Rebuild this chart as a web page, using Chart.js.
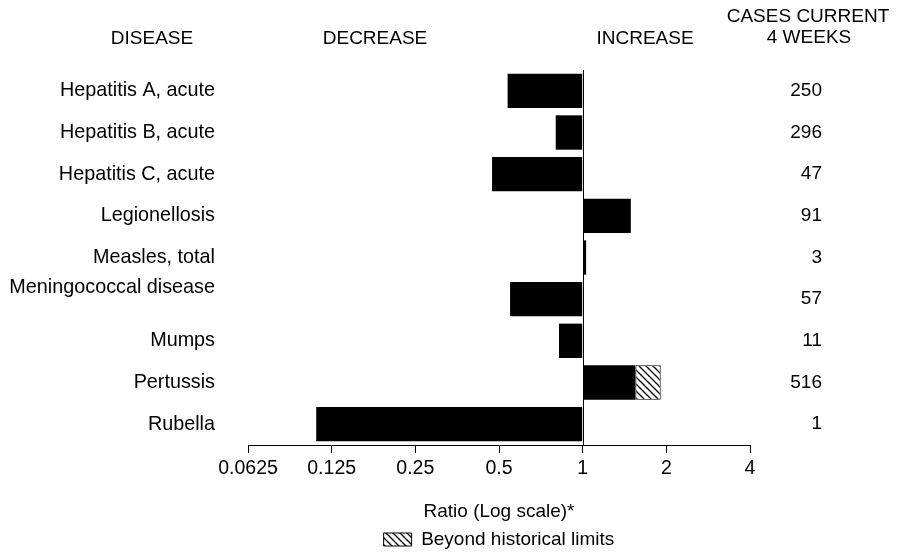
<!DOCTYPE html>
<html>
<head>
<meta charset="utf-8">
<script src="https://cdn.jsdelivr.net/npm/chart.js@4.4.0/dist/chart.umd.min.js"></script>
<style>
  html, body { margin: 0; padding: 0; background: #fff; }
  #wrap { width: 901px; height: 559px; position: relative; }
</style>
</head>
<body>
<div id="wrap"><canvas id="chart"></canvas></div>
<script>
// data
const diseases = [
    'Hepatitis A, acute', 'Hepatitis B, acute', 'Hepatitis C, acute',
    'Legionellosis', 'Measles, total', 'Meningococcal disease',
    'Mumps', 'Pertussis', 'Rubella'
];
const ratios = [0.537, 0.80, 0.472, 1.49, 1.029, 0.548, 0.822, 1.548, 0.110];
const beyondLimits = [null, null, null, null, null, null, null, 1.909, null];
const casesCurrent = [250, 296, 47, 91, 3, 57, 11, 516, 1];
const xTicks = [0.0625, 0.125, 0.25, 0.5, 1, 2, 4];

Chart.defaults.font.family = '"Liberation Sans", Arial, Helvetica, sans-serif';
Chart.defaults.font.size = 19;
Chart.defaults.color = '#000';

function makeHatch() {
    const s = 7;
    const c = document.createElement('canvas');
    c.width = s; c.height = s;
    const g = c.getContext('2d');
    g.fillStyle = '#fff';
    g.fillRect(0, 0, s, s);
    g.strokeStyle = '#000';
    g.lineWidth = 1.3;
    g.beginPath();
    g.moveTo(-1, -1); g.lineTo(s + 1, s + 1);
    g.moveTo(-1, s - 1); g.lineTo(1, s + 1);
    g.moveTo(s - 1, -1); g.lineTo(s + 1, 1);
    g.stroke();
    return g.createPattern(c, 'repeat');
}
const hatch = makeHatch();

// header texts and the line at ratio 1
const extras = {
    id: 'extras',
    afterDatasetsDraw(chart) {
        const ctx = chart.ctx;
        const area = chart.chartArea;
        const x1 = Math.round(chart.scales.x.getPixelForValue(1)) + 0.5;
        ctx.save();
        ctx.strokeStyle = '#000';
        ctx.lineWidth = 1;
        ctx.beginPath();
        ctx.moveTo(x1, area.top);
        ctx.lineTo(x1, area.bottom);
        ctx.stroke();

        ctx.fillStyle = '#000';
        ctx.font = '19px "Liberation Sans", Arial, sans-serif';
        ctx.textAlign = 'center';
        ctx.textBaseline = 'alphabetic';
        ctx.fillText('DISEASE', 152, 44);
        ctx.fillText('DECREASE', 375, 44);
        ctx.fillText('INCREASE', 645, 44);
        ctx.fillText('CASES CURRENT', 808, 22);
        ctx.fillText('4 WEEKS', 809, 43);
        ctx.restore();
    }
};

const ctx = document.getElementById('chart').getContext('2d');
new Chart(ctx, {
    type: 'bar',
    data: {
        labels: diseases.map(d => d === 'Meningococcal disease' ? [d, ''] : d),
        datasets: [{
            label: 'Ratio',
            data: ratios,
            base: 1,
            backgroundColor: '#000',
            borderWidth: 0,
            grouped: false,
            barPercentage: 0.825,
            categoryPercentage: 1,
            order: 2
        }, {
            label: 'Beyond historical limits',
            data: beyondLimits.map((v, i) => v == null ? null : [ratios[i], v]),
            backgroundColor: hatch,
            borderColor: '#000',
            borderWidth: 1,
            borderSkipped: false,
            grouped: false,
            barPercentage: 0.825,
            categoryPercentage: 1,
            order: 1
        }]
    },
    options: {
        indexAxis: 'y',
        responsive: true,
        maintainAspectRatio: false,
        animation: false,
        layout: { padding: { top: 70, right: 79, left: 0, bottom: 0 } },
        scales: {
            x: {
                type: 'logarithmic',
                position: 'bottom',
                min: 0.0625,
                max: 4,
                afterBuildTicks: scale => {
                    scale.ticks = xTicks.map(v => ({ value: v }));
                },
                afterFit: scale => { scale.height = 78; },
                ticks: {
                    autoSkip: false,
                    maxRotation: 0,
                    padding: 4,
                    font: { size: 19.5 },
                    callback: v => String(v)
                },
                grid: {
                    drawOnChartArea: false,
                    drawTicks: true,
                    tickLength: 8,
                    color: '#000',
                    lineWidth: 1
                },
                border: { display: true, color: '#000', width: 1 },
                title: {
                    display: true,
                    text: 'Ratio (Log scale)*',
                    padding: { top: 0, bottom: 0 },
                    font: { size: 19 }
                }
            },
            y: {
                position: 'left',
                offset: true,
                afterFit: scale => { scale.width = 248; },
                ticks: { autoSkip: false, padding: 33, font: { size: 19.8 } },
                grid: { display: false, drawTicks: false },
                border: { display: false }
            },
            y2: {
                type: 'category',
                axis: 'y',
                position: 'right',
                offset: true,
                labels: casesCurrent.map(String),
                afterFit: scale => { scale.width = 72; },
                ticks: { autoSkip: false, crossAlign: 'far', padding: 0, font: { size: 19 } },
                grid: { display: false, drawTicks: false },
                border: { display: false }
            }
        },
        plugins: {
            legend: {
                position: 'bottom',
                fullSize: false,
                labels: {
                    boxWidth: 28,
                    boxHeight: 13,
                    padding: 7,
                    font: { size: 19 },
                    filter: item => item.text === 'Beyond historical limits'
                }
            },
            tooltip: { enabled: false }
        }
    },
    plugins: [extras]
});
</script>
</body>
</html>
